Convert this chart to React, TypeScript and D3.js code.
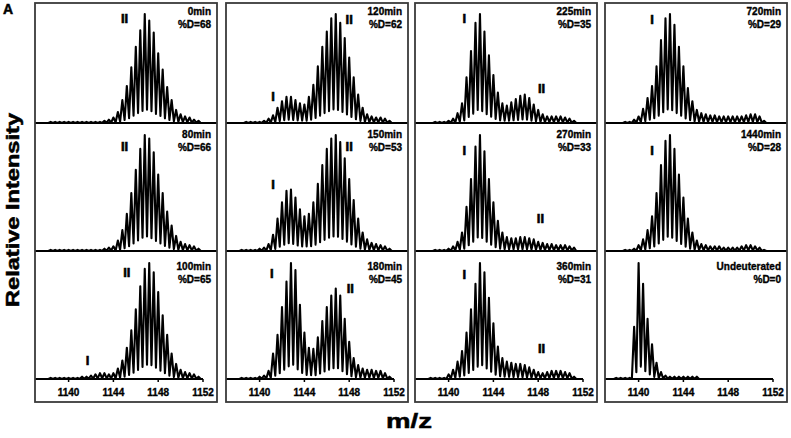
import React from "react";
import * as d3 from "d3";

// isotope peak positions (m/z) shared by every panel
const mzValues = [
  1138.0, 1138.4, 1138.8, 1139.2, 1139.6, 1140.0, 1140.4, 1140.8, 1141.2, 1141.6,
  1142.0, 1142.4, 1142.8, 1143.2, 1143.6, 1144.0, 1144.4, 1144.8, 1145.2, 1145.6,
  1146.0, 1146.4, 1146.8, 1147.2, 1147.6, 1148.0, 1148.4, 1148.8, 1149.2, 1149.6,
  1150.0, 1150.4, 1150.8, 1151.2, 1151.6,
];

// relative intensity (%) of each peak
const int0min = [0,1,1,1,1,1,1,1,1,1,1,1,1,2,3,5,10,21,34,51,70,85,100,94,83,64,49,33,21,12,8,6,5,3,2];
const int80min = [0,1,1,1,1,1,1,1,1,1,1,1,1,2,3,4,9,18,32,50,70,88,100,97,85,66,50,34,22,13,8,6,5,4,2];
const int100min = [0,1,1,1,1,1,1,1,2,2,3,4,5,5,4,5,9,16,27,42,60,80,95,100,92,75,55,38,22,13,8,6,5,4,2];
const int120min = [0,0,1,1,1,1,2,4,7,14,20,24,24,21,18,17,24,35,52,70,84,96,100,92,78,60,42,26,14,8,6,5,5,4,2];
const int150min = [0,1,1,1,1,2,3,6,14,28,42,52,53,46,36,30,32,42,58,74,88,97,100,94,80,62,44,28,16,10,7,6,5,4,2];
const int180min = [0,1,1,1,1,2,3,7,22,38,62,84,100,94,64,40,27,26,36,50,62,72,78,72,52,32,18,12,9,8,8,7,7,5,2];
const int225min = [0,0,1,1,1,2,4,9,18,42,66,92,100,84,62,44,28,18,16,19,22,25,26,23,17,12,8,6,6,6,6,5,4,2,0];
const int270min = [0,0,1,1,1,2,4,8,16,38,62,90,100,86,62,42,26,16,12,11,11,12,12,11,10,8,7,6,6,5,5,5,4,3,0];
const int360min = [0,1,1,1,1,4,8,15,24,40,60,82,100,92,70,48,28,18,15,14,13,13,12,10,8,6,5,6,7,7,7,6,5,2,0];
const int720min = [0,0,1,1,3,6,13,23,34,52,76,96,100,90,70,52,32,20,12,9,8,7,7,6,6,6,6,6,6,7,8,8,6,2,0];
const int1440min = [0,0,1,1,2,5,10,18,30,50,74,95,100,88,66,46,28,16,9,6,5,4,4,4,3,3,3,3,4,5,5,4,3,1,0];
const intUndeut = [1,1,1,1,45,100,82,52,30,14,6,3,2,2,2,2,2,2,2,0,0,0,0,0,0,0,0,0,0,0,0,0,0,0,0];

const timeLabels = ["0min", "80min", "100min", "120min", "150min", "180min", "225min", "270min", "360min", "720min", "1440min", "Undeuterated"];
const deutLabels = ["%D=68", "%D=66", "%D=65", "%D=62", "%D=53", "%D=45", "%D=35", "%D=33", "%D=31", "%D=29", "%D=28", "%D=0"];
const intensities = [int0min, int80min, int100min, int120min, int150min, int180min, int225min, int270min, int360min, int720min, int1440min, intUndeut];

// conformer tags: [panel, text, m/z, intensity %]
const conformerTags: [number, string, number, number][] = [
  [0, "II", 1145.0, 96],
  [1, "II", 1145.0, 90],
  [2, "II", 1145.2, 92], [2, "I", 1141.7, 16],
  [3, "I", 1141.2, 24], [3, "II", 1148.0, 95],
  [4, "I", 1141.2, 57], [4, "II", 1148.0, 90],
  [5, "I", 1141.1, 91], [5, "II", 1148.1, 78],
  [6, "I", 1141.4, 96], [6, "II", 1148.3, 32],
  [7, "I", 1141.4, 87], [7, "II", 1148.2, 28],
  [8, "I", 1141.4, 90], [8, "II", 1148.3, 26],
  [9, "I", 1141.2, 95],
  [10, "I", 1141.2, 87],
];

const xTicks = [1140, 1144, 1148, 1152];
const xDomain = [1137, 1152];

// layout
const colLeft = [35, 226, 415, 605];
const boxW = 182;
const plotW = 168;
const boxTop = 3;
const boxBottom = 402;
const rowBase = [123, 251, 379];
const rowApex = [14, 135, 263];
const rowText = [14.5, 137.5, 269.5];
const valleyDepth = 0.13; // profile peaks don't fully resolve
const font = "'Liberation Sans', Arial, sans-serif";

function spectrumPath(values: number[], x: d3.ScaleLinear<number, number>, y: d3.ScaleLinear<number, number>) {
  const pts: [number, number][] = [];
  const half = (x(mzValues[1]) - x(mzValues[0])) / 2;
  pts.push([x(mzValues[0]) - half, y(0)]);
  values.forEach((v, i) => {
    pts.push([x(mzValues[i]), y(v)]);
    if (i < values.length - 1) {
      const mid = (x(mzValues[i]) + x(mzValues[i + 1])) / 2;
      pts.push([mid, y(valleyDepth * Math.min(v, values[i + 1]))]);
    }
  });
  pts.push([x(mzValues[values.length - 1]) + half, y(0)]);
  return d3.line()(pts) || "";
}

const heavy = { fontFamily: font, fontWeight: 700, stroke: "#000", strokeWidth: 0.35 } as const;

export default function App() {
  return (
    <svg width={791} height={438} style={{ position: "absolute", left: 0, top: 0, background: "#fff" }}>
      <text x={3} y={14} {...heavy} fontSize={14} strokeWidth={0.5}>A</text>
      {colLeft.map((left, c) => {
        const x = d3.scaleLinear().domain(xDomain).range([left, left + plotW]);
        return (
          <g key={c}>
            {rowBase.map((base, r) => {
              const i = c * 3 + r;
              const y = d3.scaleLinear().domain([0, 100]).range([base, rowApex[r]]);
              return (
                <g key={r}>
                  <path d={spectrumPath(intensities[i], x, y)} fill="none" stroke="#000" strokeWidth={2.1} strokeLinejoin="round" />
                  {r < 2 ? (
                    <line x1={left} x2={left + boxW} y1={base} y2={base} stroke="#000" strokeWidth={2} />
                  ) : (
                    <g>
                      <line x1={left} x2={x(1152)} y1={base} y2={base} stroke="#000" strokeWidth={2} />
                      {xTicks.map((t) => (
                        <g key={t}>
                          <line x1={x(t)} x2={x(t)} y1={base} y2={base + 3} stroke="#000" strokeWidth={1.5} />
                          <text x={x(t)} y={base + 16.5} textAnchor="middle" {...heavy} fontSize={10}>{t}</text>
                        </g>
                      ))}
                    </g>
                  )}
                  <text x={left + boxW - 6} y={rowText[r]} textAnchor="end" {...heavy} fontSize={10}>{timeLabels[i]}</text>
                  <text x={left + boxW - 6} y={rowText[r] + 13} textAnchor="end" {...heavy} fontSize={10}>{deutLabels[i]}</text>
                  {conformerTags.filter((t) => t[0] === i).map((t, k) => (
                    <text key={k} x={x(t[2])} y={y(t[3])} textAnchor="middle" dominantBaseline="central" {...heavy} strokeWidth={0.6} fontSize={13}>{t[1]}</text>
                  ))}
                </g>
              );
            })}
            <rect x={left} y={boxTop} width={boxW} height={boxBottom - boxTop} fill="none" stroke="#3a3a3a" strokeWidth={1.8} />
          </g>
        );
      })}
      <text transform="translate(19,210) rotate(-90)" textAnchor="middle" {...heavy} strokeWidth={0.5} fontSize={18} textLength={194} lengthAdjust="spacingAndGlyphs">Relative Intensity</text>
      <text x={386} y={428} {...heavy} strokeWidth={0.5} fontSize={21} textLength={46} lengthAdjust="spacingAndGlyphs">m/z</text>
    </svg>
  );
}
